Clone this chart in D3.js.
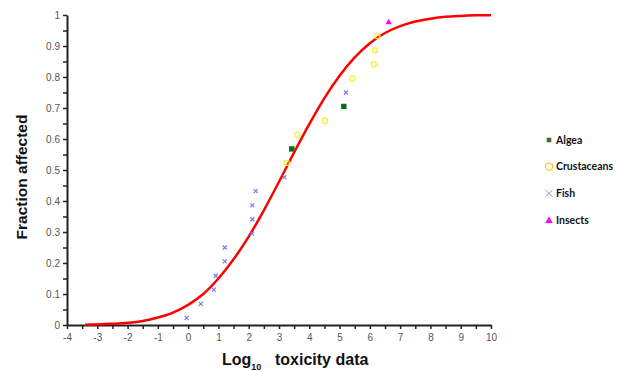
<!DOCTYPE html>
<html>
<head>
<meta charset="utf-8">
<script src="https://cdn.jsdelivr.net/npm/d3@7"></script>
<style>
  body { margin: 0; background: #fff; }
  svg { display: block; }
</style>
</head>
<body>
<div id="chart"></div>
<script>
// Species sensitivity chart

// fitted curve (log10 toxicity, fraction affected)
const curveX = [-3.4, -3, -2.5, -2, -1.5, -1, -0.5, 0, 0.5, 1, 1.5, 2, 2.5, 3, 3.5, 4, 4.5, 5, 5.5, 6, 6.5, 7, 7.5, 8, 8.5, 9, 9.5, 10];
const curveY = [0.001, 0.002, 0.004, 0.007, 0.013, 0.024, 0.040, 0.065, 0.100, 0.150, 0.212, 0.285, 0.370, 0.462, 0.557, 0.648, 0.732, 0.804, 0.863, 0.909, 0.942, 0.964, 0.979, 0.988, 0.994, 0.997, 0.999, 0.999];

// observed points per group
const algeaX = [3.42, 5.14];
const algeaY = [0.568, 0.705];
const crustX = [3.26, 3.61, 4.52, 5.42, 6.13, 6.17, 6.25];
const crustY = [0.523, 0.614, 0.659, 0.795, 0.841, 0.886, 0.932];
const fishX = [-0.05, 0.42, 0.85, 0.91, 1.21, 1.21, 2.11, 2.12, 2.12, 2.23, 3.18, 5.21];
const fishY = [0.023, 0.068, 0.114, 0.159, 0.205, 0.250, 0.295, 0.341, 0.386, 0.432, 0.477, 0.750];
const insectX = [6.62];
const insectY = [0.977];

const legendLabels = ["Algea", "Crustaceans", "Fish", "Insects"];
const xTickLabels = [-4, -3, -2, -1, 0, 1, 2, 3, 4, 5, 6, 7, 8, 9, 10];
const yTickLabels = [0, 0.1, 0.2, 0.3, 0.4, 0.5, 0.6, 0.7, 0.8, 0.9, 1];

const width = 620, height = 371;
const plotLeft = 67, plotRight = 491, plotTop = 15, plotBottom = 325;

const svg = d3.select("#chart").append("svg")
    .attr("width", width)
    .attr("height", height);

const x = d3.scaleLinear().domain([-4, 10]).range([plotLeft, plotRight]);
const y = d3.scaleLinear().domain([0, 1]).range([plotBottom, plotTop]);

// minor ticks (every 0.5 / 0.05)
const xMinor = d3.range(-4, 10.01, 0.5);
const yMinor = d3.range(0, 1.001, 0.05);

const xAxis = svg.append("g")
    .attr("transform", `translate(0,${plotBottom})`)
    .call(d3.axisBottom(x).tickValues(xMinor).tickSize(4).tickSizeOuter(0)
        .tickFormat(d => xTickLabels.includes(d) ? d3.format("d")(d) : ""));

const yAxis = svg.append("g")
    .attr("transform", `translate(${plotLeft},0)`)
    .call(d3.axisLeft(y).tickValues(yMinor).tickSize(4).tickSizeOuter(0)
        .tickFormat(d => yTickLabels.some(v => Math.abs(v - d) < 1e-6) ? String(+d.toFixed(2)) : ""));

[xAxis, yAxis].forEach(a => {
    a.select(".domain").attr("stroke", "#222").attr("stroke-width", 2);
    a.selectAll(".tick line").attr("stroke", "#222").attr("stroke-width", 1.5);
    a.selectAll(".tick text")
        .attr("fill", "#555")
        .style("font-family", "'Liberation Sans Narrow', 'Liberation Sans', Arial, sans-serif")
        .style("font-size", "10px");
});
xAxis.selectAll(".tick text").attr("dy", "0.9em")
    .text(d => xTickLabels.includes(d) ? String(d) : "");
yAxis.selectAll(".tick text").attr("x", -7);

// fitted curve
const line = d3.line()
    .x((d, i) => x(curveX[i]))
    .y((d, i) => y(curveY[i]))
    .curve(d3.curveMonotoneX);

svg.append("path")
    .datum(curveX)
    .attr("d", line)
    .attr("fill", "none")
    .attr("stroke", "#ff0000")
    .attr("stroke-width", 2.5);

// markers
function drawPoints(xs, ys, cls, drawFn) {
    const g = svg.append("g").attr("class", cls);
    xs.forEach((v, i) => drawFn(g, x(v), y(ys[i])));
}

const squareMark = (g, cx, cy) => g.append("rect")
    .attr("x", cx - 2.7).attr("y", cy - 2.7).attr("width", 5.4).attr("height", 5.4)
    .attr("fill", "#0b6e10");
const circleMark = (g, cx, cy) => g.append("circle")
    .attr("cx", cx).attr("cy", cy).attr("r", 2.6)
    .attr("fill", "none").attr("stroke", "#f5f020").attr("stroke-width", 1.2);
const crossMark = (g, cx, cy) => g.append("path")
    .attr("d", `M${cx - 2},${cy - 2}L${cx + 2},${cy + 2}M${cx - 2},${cy + 2}L${cx + 2},${cy - 2}`)
    .attr("stroke", "#7878ff").attr("stroke-width", 1.2);
const triMark = (g, cx, cy) => g.append("path")
    .attr("d", `M${cx},${cy - 3.5}L${cx + 3.2},${cy + 2.2}L${cx - 3.2},${cy + 2.2}Z`)
    .attr("fill", "#ff00ff");

drawPoints(crustX, crustY, "crust", circleMark);
drawPoints(fishX, fishY, "fish", crossMark);
drawPoints(algeaX, algeaY, "algea", squareMark);
drawPoints(insectX, insectY, "insect", triMark);

// axis titles
svg.append("text")
    .attr("transform", `translate(27,177) rotate(-90)`)
    .attr("text-anchor", "middle")
    .style("font-family", "'Liberation Sans', Arial, sans-serif")
    .style("font-weight", "bold")
    .style("font-size", "15.5px")
    .attr("fill", "#111")
    .text("Fraction affected");

const xt = svg.append("text")
    .attr("x", 222).attr("y", 365)
    .style("font-family", "'Liberation Sans', Arial, sans-serif")
    .style("font-weight", "bold")
    .style("font-size", "16px")
    .attr("fill", "#111");
xt.append("tspan").text("Log");
xt.append("tspan").attr("dy", 5).style("font-size", "9px").text("10");
xt.append("tspan").attr("x", 275).attr("dy", -5).text("toxicity data");

// legend
const legendY = d3.scalePoint().domain(legendLabels).range([140, 220]);
const legendMarks = {
    "Algea": (g, cx, cy) => g.append("rect").attr("x", cx - 2.3).attr("y", cy - 2.3)
        .attr("width", 4.6).attr("height", 4.6).attr("fill", "#4b6b35"),
    "Crustaceans": (g, cx, cy) => g.append("circle").attr("cx", cx).attr("cy", cy).attr("r", 3.6)
        .attr("fill", "none").attr("stroke", "#ffc000").attr("stroke-width", 1.1),
    "Fish": (g, cx, cy) => g.append("path")
        .attr("d", `M${cx - 3.5},${cy - 3.5}L${cx + 3.5},${cy + 3.5}M${cx - 3.5},${cy + 3.5}L${cx + 3.5},${cy - 3.5}`)
        .attr("stroke", "#7f8fbf").attr("stroke-width", 0.9),
    "Insects": (g, cx, cy) => g.append("path")
        .attr("d", `M${cx},${cy - 3.5}L${cx + 3.8},${cy + 3}L${cx - 3.8},${cy + 3}Z`)
        .attr("fill", "#ff00ff")
};
const legend = svg.append("g").attr("class", "legend");
legendLabels.forEach(name => {
    const cy = legendY(name);
    legendMarks[name](legend, 549, cy);
    legend.append("text")
        .attr("x", 556).attr("y", cy)
        .attr("dy", "0.35em")
        .style("font-family", "Lato, 'Open Sans', sans-serif")
        .style("font-weight", "bold")
        .style("font-size", "10.5px")
        .attr("fill", "#111")
        .text(name);
});
</script>
</body>
</html>
